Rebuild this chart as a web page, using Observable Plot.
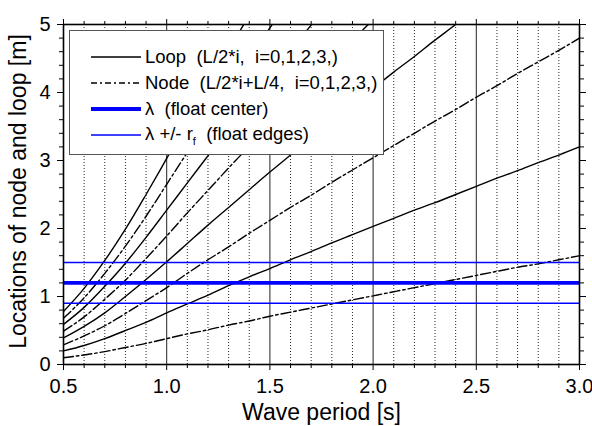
<!DOCTYPE html>
<html>
<head>
<meta charset="utf-8">
<script src="https://cdn.jsdelivr.net/npm/d3@7"></script>
<script src="https://cdn.jsdelivr.net/npm/@observablehq/plot@0.6"></script>
<style>
  html, body { margin: 0; padding: 0; background: white; }
  #wrap { position: relative; width: 592px; height: 426px; font-family: "Liberation Sans", Arial, sans-serif; }
  #legend { position: absolute; left: 69px; top: 30px; width: 315px; height: 125px; background: white;
            border: 1.5px solid #555; padding-top: 13px; box-sizing: border-box; }
  .row { height: 26px; display: flex; align-items: center; white-space: pre; font-size: 18.5px; color: #000; }
  .row svg { margin-left: 21px; margin-right: 4px; flex: none; }
  sub { font-size: 11px; vertical-align: -5px; }
</style>
</head>
<body>
<div id="wrap"></div>
<script>
// Wave period [s]
const periods = [0.5,0.6,0.7,0.8,0.9,1.0,1.1,1.2,1.3,1.4,1.5,1.6,1.7,1.8,1.9,2.0,2.1,2.2,2.3,2.4,2.5,2.6,2.7,2.8,2.9,3.0];

// Loop curves (solid): L/2*i
const loop1 = [0.20,0.28,0.38,0.50,0.62,0.76,0.89,1.02,1.16,1.29,1.41,1.54,1.66,1.79,1.91,2.03,2.15,2.27,2.38,2.50,2.62,2.74,2.85,2.97,3.08,3.20];
const loop2 = [0.39,0.56,0.76,1.00,1.25,1.51,1.78,2.05,2.31,2.57,2.83,3.08,3.33,3.57,3.82,4.06,4.30,4.53,4.77,5.00,5.24];
const loop3 = [0.59,0.84,1.15,1.49,1.87,2.27,2.67,3.07,3.47,3.86,4.24,4.62,4.99,5.36];
const loop4 = [0.78,1.12,1.53,1.99,2.50,3.03,3.56,4.10,4.62,5.14];

// Node curves (dash-dot): L/2*i + L/4
const node0 = [0.10,0.14,0.19,0.25,0.31,0.38,0.45,0.51,0.58,0.64,0.71,0.77,0.83,0.89,0.95,1.01,1.07,1.13,1.19,1.25,1.31,1.37,1.43,1.48,1.54,1.60];
const node1 = [0.29,0.42,0.57,0.75,0.94,1.13,1.34,1.54,1.73,1.93,2.12,2.31,2.49,2.68,2.86,3.04,3.22,3.40,3.58,3.75,3.93,4.10,4.28,4.45,4.62,4.80];
const node2 = [0.49,0.70,0.96,1.24,1.56,1.89,2.23,2.56,2.89,3.21,3.53,3.85,4.16,4.47,4.77,5.07];
const node3 = [0.68,0.98,1.34,1.74,2.18,2.65,3.12,3.59,4.05,4.50,4.95,5.39];

// Float position
const floatCenter = [1.2];
const floatEdges = [0.9, 1.5];

// Ticks
const xMajor = [0.5, 1.0, 1.5, 2.0, 2.5, 3.0];
const xTickLabels = ["0.5", "1.0", "1.5", "2.0", "2.5", "3.0"];
const xMinor = [0.6,0.7,0.8,0.9,1.1,1.2,1.3,1.4,1.6,1.7,1.8,1.9,2.1,2.2,2.3,2.4,2.6,2.7,2.8,2.9];
const xSolidGrid = [1.0, 1.5, 2.0, 2.5];
const yMajor = [0, 1, 2, 3, 4, 5];
const yTickLabels = ["0", "1", "2", "3", "4", "5"];
const yMinor = [0.2,0.4,0.6,0.8,1.2,1.4,1.6,1.8,2.2,2.4,2.6,2.8,3.2,3.4,3.6,3.8,4.2,4.4,4.6,4.8];

const xTitle = "Wave period [s]";
const yTitle = "Locations of node and loop [m]";

const toRows = (arr, name) => arr.map((v, i) => ({T: periods[i], v, series: name}));
const loops = [...toRows(loop1,"l1"), ...toRows(loop2,"l2"), ...toRows(loop3,"l3"), ...toRows(loop4,"l4")];
const nodes = [...toRows(node0,"n0"), ...toRows(node1,"n1"), ...toRows(node2,"n2"), ...toRows(node3,"n3")];

const dashDot = "10,3,2.5,3";

const chart = Plot.plot({
  width: 592,
  height: 426,
  marginLeft: 63,
  marginRight: 13,
  marginTop: 24,
  marginBottom: 62,
  style: {fontFamily: "Liberation Sans, Arial, sans-serif", fontSize: "20px", background: "white", color: "black"},
  x: {domain: [0.5, 3.0]},
  y: {domain: [0, 5]},
  marks: [
    Plot.ruleX(xMinor, {stroke: "#000", strokeWidth: 1, strokeDasharray: "1,2", strokeOpacity: 0.85}),
    Plot.ruleX(xSolidGrid, {stroke: "#222", strokeWidth: 1}),
    Plot.line(loops, {x: "T", y: "v", z: "series", stroke: "black", strokeWidth: 1.4, curve: "monotone-x", clip: true}),
    Plot.line(nodes, {x: "T", y: "v", z: "series", stroke: "black", strokeWidth: 1.4, strokeDasharray: dashDot, curve: "monotone-x", clip: true}),
    Plot.ruleY(floatEdges, {stroke: "#0000ff", strokeWidth: 1.6}),
    Plot.ruleY(floatCenter, {stroke: "#0000ff", strokeWidth: 3.6}),
    Plot.frame({stroke: "black", strokeWidth: 1.6}),
    Plot.axisX({ticks: xMajor, anchor: "bottom", tickSize: 6, tickPadding: 8, tickFormat: (d) => xTickLabels[xMajor.indexOf(d)], fontSize: 20, label: null}),
    Plot.axisX({ticks: xMinor, anchor: "bottom", tickSize: 4, tickFormat: () => "", label: null}),
    Plot.axisX({ticks: xMajor, anchor: "top", tickSize: 6, tickFormat: () => "", label: null}),
    Plot.axisX({ticks: xMinor, anchor: "top", tickSize: 4, tickFormat: () => "", label: null}),
    Plot.axisY({ticks: yMajor, anchor: "left", tickSize: 6, tickPadding: 7, tickFormat: (d) => yTickLabels[yMajor.indexOf(d)], fontSize: 20, label: null}),
    Plot.axisY({ticks: yMinor, anchor: "left", tickSize: 4, tickFormat: () => "", label: null}),
    Plot.axisY({ticks: yMajor, anchor: "right", tickSize: 6, tickFormat: () => "", label: null}),
    Plot.axisY({ticks: yMinor, anchor: "right", tickSize: 4, tickFormat: () => "", label: null}),
    Plot.text([xTitle], {frameAnchor: "bottom", textAnchor: "middle", dy: 48, fontSize: 23, lineAnchor: "middle"}),
    Plot.text([yTitle], {frameAnchor: "left", textAnchor: "middle", dx: -45, dy: -3, rotate: -90, fontSize: 23, lineAnchor: "middle"})
  ]
});

const wrap = document.getElementById("wrap");
wrap.appendChild(chart);

// Legend overlay
const legendItems = [
  {html: "Loop  (L/2*i,  i=0,1,2,3,)", color: "black", width: 1.4, dash: null},
  {html: "Node  (L/2*i+L/4,  i=0,1,2,3,)", color: "black", width: 1.4, dash: "6,3,2,3"},
  {html: "\u03bb  (float center)", color: "#0000ff", width: 4, dash: null},
  {html: "\u03bb +/- r<sub>f</sub>  (float edges)", color: "#0000ff", width: 1.6, dash: null}
];
const legend = document.createElement("div");
legend.id = "legend";
legendItems.forEach(item => {
  const row = document.createElement("div");
  row.className = "row";
  const dashAttr = item.dash ? ` stroke-dasharray="${item.dash}"` : "";
  row.innerHTML = `<svg width="50" height="10"><line x1="0" y1="5" x2="50" y2="5" stroke="${item.color}" stroke-width="${item.width}"${dashAttr}/></svg><span>${item.html}</span>`;
  legend.appendChild(row);
});
wrap.appendChild(legend);
</script>
</body>
</html>
